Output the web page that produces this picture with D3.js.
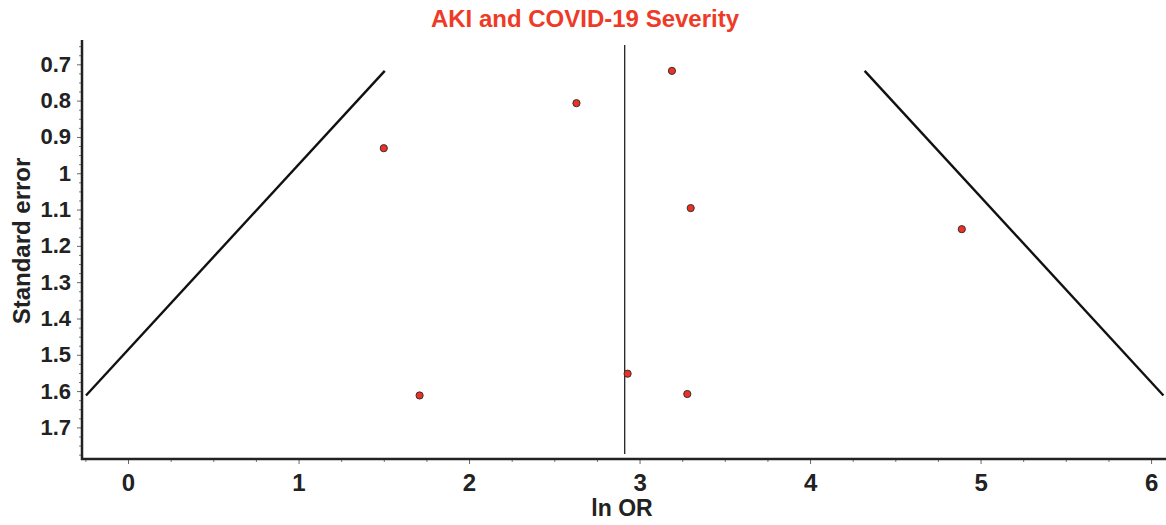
<!DOCTYPE html>
<html>
<head>
<meta charset="utf-8">
<script src="https://cdn.jsdelivr.net/npm/d3@7"></script>
<style>
  html, body { margin: 0; padding: 0; background: #fff; }
  svg { display: block; font-family: "Liberation Sans", Arial, sans-serif; }
</style>
</head>
<body>
<svg id="chart" width="1166" height="525"></svg>
<script>
// Study-level effect sizes (log odds ratio) and their standard errors
const lnOR = [3.19, 2.63, 1.50, 3.30, 4.89, 2.93, 3.28, 1.71];
const stdErr = [0.718, 0.807, 0.931, 1.096, 1.154, 1.552, 1.608, 1.612];
// Pooled estimate
const pooledLnOR = 2.913;
const xTicks = [0, 1, 2, 3, 4, 5, 6];
const yTicks = [0.7, 0.8, 0.9, 1.0, 1.1, 1.2, 1.3, 1.4, 1.5, 1.6, 1.7];
const titleText = "AKI and COVID-19 Severity";
const xLabel = "ln OR";
const yLabel = "Standard error";

const svg = d3.select("#chart");
const plotLeft = 82, plotRight = 1163, plotTop = 40, plotBottom = 459;

const x = d3.scaleLinear().domain([-0.27, 6.07]).range([plotLeft, plotRight]);
const y = d3.scaleLinear().domain([0.633, 1.787]).range([plotTop, plotBottom]);

// Title
svg.append("text")
  .attr("x", 585).attr("y", 27)
  .attr("text-anchor", "middle")
  .attr("font-size", 24).attr("font-weight", "bold")
  .attr("fill", "#ee3a26")
  .text(titleText);

// Minor ticks
const xMinor = d3.range(-0.25, 6.01, 0.25).filter(v => Math.abs(v - Math.round(v)) > 1e-6);
const yMinor = d3.range(0.65, 1.776, 0.025).filter(v => Math.abs(v * 10 - Math.round(v * 10)) > 1e-6);

svg.append("g")
  .attr("transform", `translate(0,${plotBottom})`)
  .call(d3.axisBottom(x).tickValues(xMinor).tickSize(3).tickFormat(""))
  .call(g => g.select(".domain").remove())
  .call(g => g.selectAll("line").attr("stroke", "#777"));

svg.append("g")
  .attr("transform", `translate(${plotLeft},0)`)
  .call(d3.axisLeft(y).tickValues(yMinor).tickSize(3).tickFormat(""))
  .call(g => g.select(".domain").remove())
  .call(g => g.selectAll("line").attr("stroke", "#777"));

// Major x axis
svg.append("g")
  .attr("transform", `translate(0,${plotBottom})`)
  .call(d3.axisBottom(x).tickValues(xTicks).tickSize(5).tickPadding(10).tickFormat(d3.format("d")))
  .call(g => g.select(".domain").remove())
  .call(g => g.selectAll("line").attr("stroke", "#666"))
  .call(g => g.selectAll("text")
    .attr("font-size", 24).attr("font-weight", "bold")
    .attr("font-family", "Liberation Sans, Arial, sans-serif")
    .attr("fill", "#222"));

// Major y axis
svg.append("g")
  .attr("transform", `translate(${plotLeft},0)`)
  .call(d3.axisLeft(y).tickValues(yTicks).tickSize(5).tickPadding(6).tickFormat(d => String(+d.toFixed(1))))
  .call(g => g.select(".domain").remove())
  .call(g => g.selectAll("line").attr("stroke", "#666"))
  .call(g => g.selectAll("text")
    .attr("font-size", 22).attr("font-weight", "bold")
    .attr("font-family", "Liberation Sans, Arial, sans-serif")
    .attr("fill", "#222"));

// Axis lines
svg.append("line")
  .attr("x1", plotLeft).attr("x2", plotLeft)
  .attr("y1", plotTop).attr("y2", plotBottom + 1)
  .attr("stroke", "#222").attr("stroke-width", 2.5);
svg.append("line")
  .attr("x1", plotLeft - 1).attr("x2", 1166)
  .attr("y1", plotBottom).attr("y2", plotBottom)
  .attr("stroke", "#222").attr("stroke-width", 2.5);

// Axis titles
svg.append("text")
  .attr("x", 622).attr("y", 516)
  .attr("text-anchor", "middle")
  .attr("font-size", 23).attr("font-weight", "bold")
  .attr("fill", "#222")
  .text(xLabel);

svg.append("text")
  .attr("transform", "translate(30,241) rotate(-90)")
  .attr("text-anchor", "middle")
  .attr("font-size", 24).attr("font-weight", "bold")
  .attr("fill", "#222")
  .text(yLabel);

// Pooled estimate line
svg.append("line")
  .attr("x1", x(pooledLnOR)).attr("x2", x(pooledLnOR))
  .attr("y1", y(0.647)).attr("y2", y(1.773))
  .attr("stroke", "#111").attr("stroke-width", 1.2);

// 95% pseudo-confidence funnel
const seMin = d3.min(stdErr), seMax = d3.max(stdErr);
const funnelLine = d3.line().x(d => x(d[0])).y(d => y(d[1]));
[-1, 1].forEach(sign => {
  svg.append("path")
    .attr("d", funnelLine([
      [pooledLnOR + sign * 1.96 * seMin, seMin],
      [pooledLnOR + sign * 1.96 * seMax, seMax]
    ]))
    .attr("fill", "none")
    .attr("stroke", "#111")
    .attr("stroke-width", 2.4);
});

// Study points
svg.append("g")
  .selectAll("circle")
  .data(lnOR.map((v, i) => ({ v, se: stdErr[i] })))
  .join("circle")
  .attr("cx", d => x(d.v))
  .attr("cy", d => y(d.se))
  .attr("r", 3.6)
  .attr("fill", "#ee3124")
  .attr("stroke", "#333")
  .attr("stroke-width", 1);
</script>
</body>
</html>
